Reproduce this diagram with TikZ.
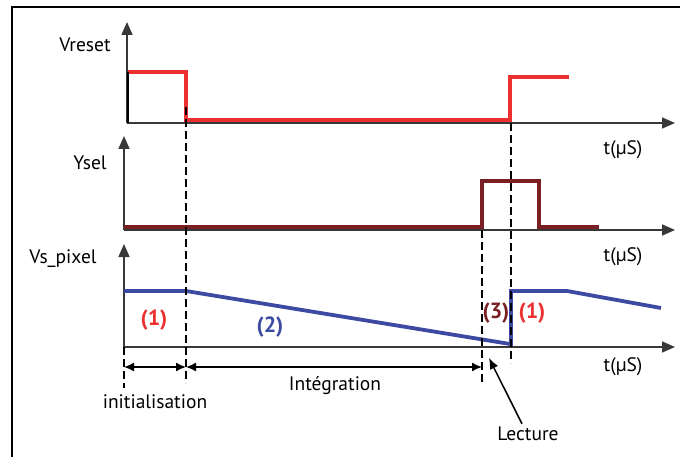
\documentclass[tikz,border=0pt]{standalone}
\usepackage{fontspec}
\setmainfont{PT Sans}
\usetikzlibrary{arrows.meta}
\definecolor{resetred}{HTML}{EC2F2F}
\definecolor{selred}{HTML}{7A1F23}
\definecolor{pixblue}{HTML}{3D4AA2}
\definecolor{axisgray}{HTML}{383838}
\tikzset{axis/.style={-{Triangle[length=13pt,width=11pt]},line width=1.6pt,draw=axisgray,fill=axisgray},signal/.style={line width=3.8pt,line join=miter},marker/.style={dash pattern=on 8pt off 4pt,line width=1.3pt},span/.style={{Latex[length=10pt,width=9pt]}-{Latex[length=10pt,width=9pt]},line width=1.5pt},txt/.style={font=\fontsize{19.5}{21}\selectfont,inner sep=0pt},phase/.style={font=\bfseries\fontsize{22}{24}\selectfont,inner sep=0pt}}

\begin{document}
\begin{tikzpicture}[x=1pt,y=-1pt]
\useasboundingbox (0,0) rectangle (680,457);
\draw[line width=1.5pt] (12,457)--(12,7)--(682,7);
\foreach \name/\xo/\yo/\ytop/\lx/\ly/\txt/\ty in {reset/127/123/22/85/45/Vreset/150,sel/124/230/136/90/163/Ysel/257,pix/124/347/244/63/259/Vs\_pixel/367}{
\coordinate (O\name) at (\xo,\yo);
\coordinate (T\name) at (\xo,\ytop);
\coordinate (X\name) at (675,\yo);
\draw[axis] (O\name)--(T\name);
\draw[axis] (O\name)--(X\name);
\node[txt] (L\name) at (\lx,\ly) {\txt};
\node[txt] (t\name) at (623,\ty) {t(µS)};
}
% signals
\draw[signal,resetred] (128,72)--(186,72)--(186,120)--(510,120)--(510,77)--(569,77);
\draw[line width=1.6pt] (128,72)--(128,123);
\draw[signal,selred] (124,227)--(482,227)--(482,181)--(539,181)--(539,227)--(599,227);
\draw[signal,pixblue] (124,291)--(186,291)--(510,344)--(511,344)--(511,291)--(567,291)--(661,308);
% time markers
\coordinate (m0) at (124,388);
\coordinate (m1a) at (186,107); \coordinate (m1) at (186,383);
\coordinate (m2a) at (482,230); \coordinate (m2) at (482,385);
\coordinate (m3a) at (511,123); \coordinate (m3) at (511,363);
\draw[marker] (Opix)--(m0);
\draw[marker] (m1a)--(m1);
\draw[marker] (m2a)--(m2);
\draw[marker] (m3a)--(m3);
\coordinate (s0) at (124,367); \coordinate (s1) at (186,367); \coordinate (s2) at (482,367);
\draw[span] (s0)--(s1);
\draw[span] (s1)--(s2);
\node[txt] (init) at (155,402) {initialisation};
\node[txt] (integ) at (335,386) {Intégration};
\node[txt] (lect) at (528,434) {Lecture};
\coordinate (lt) at (489,358);
\draw[-{Latex[length=11pt,width=9pt]},line width=1.5pt] (lect.north) ++(-6,-3) coordinate (lf)--(lt);
% phases
\node[phase,resetred] (p1) at (154,320) {(1)};
\node[phase,pixblue] (p2) at (270,327) {(2)};
\node[phase,selred] (p3) at (496,313) {(3)};
\node[phase,resetred] (p4) at (532,313) {(1)};
\end{tikzpicture}
\end{document}
